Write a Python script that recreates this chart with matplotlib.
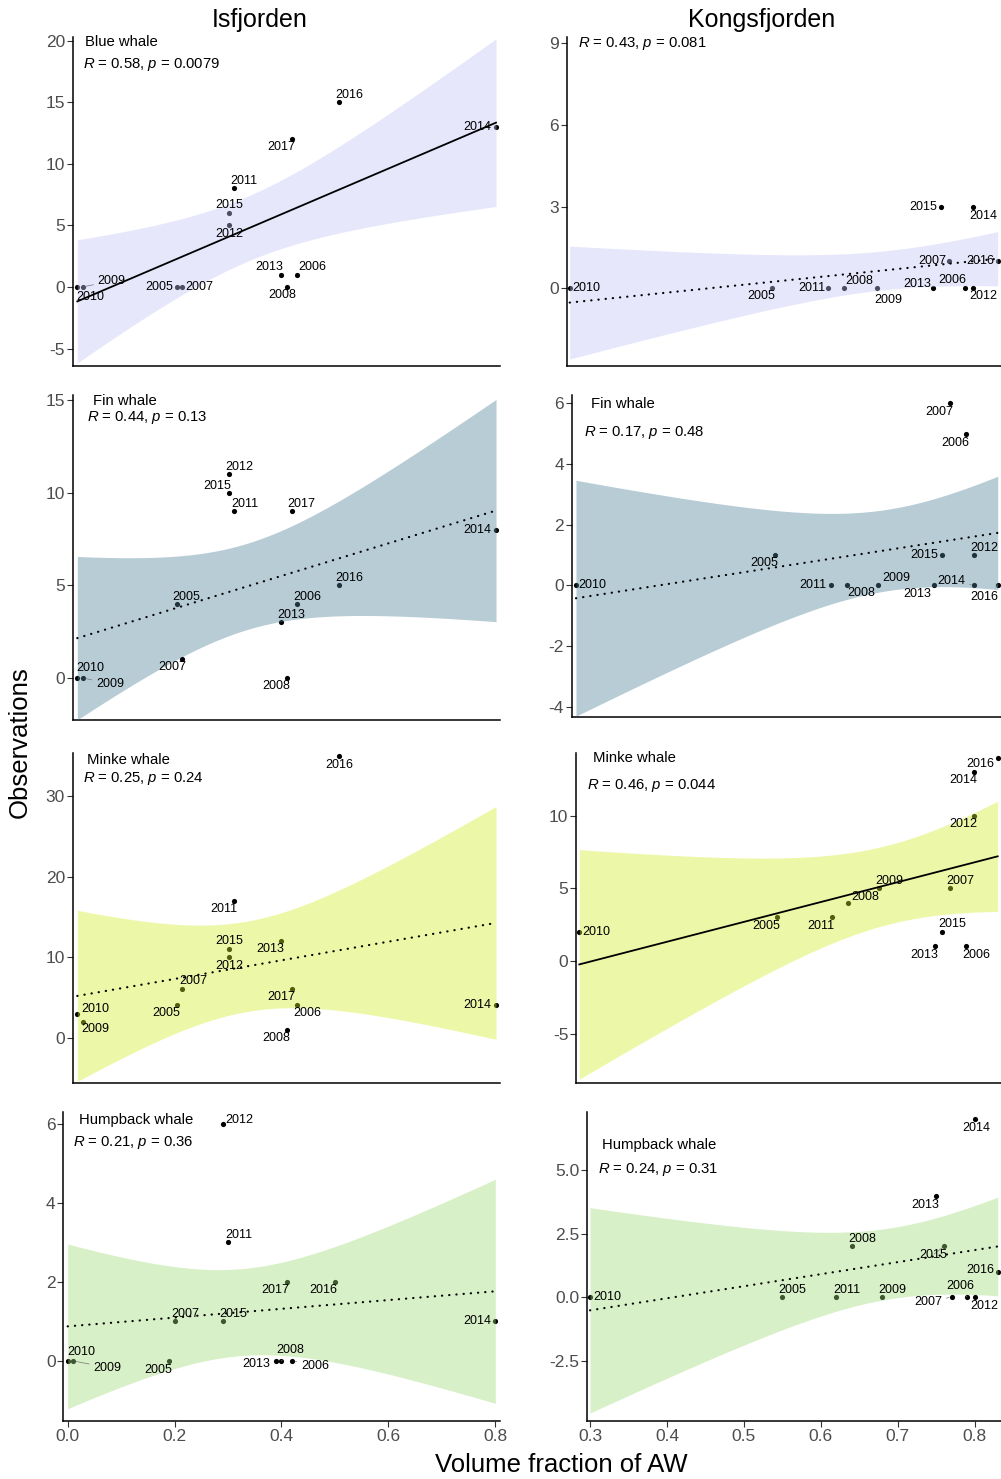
import numpy as np
import matplotlib
matplotlib.use("Agg")
import matplotlib.pyplot as plt

plt.rcParams['font.family'] = ['Liberation Sans', 'DejaVu Sans']
plt.rcParams['axes.unicode_minus'] = False
plt.rcParams['mathtext.fontset'] = 'custom'
plt.rcParams['mathtext.rm'] = 'Liberation Sans'
plt.rcParams['mathtext.it'] = 'Liberation Sans:italic'

# ---------------- data ----------------
years_isf = [2005, 2006, 2007, 2008, 2009, 2010, 2011, 2012, 2013, 2014, 2015, 2016, 2017]
aw_isf = [0.19, 0.42, 0.20, 0.40, 0.01, 0.00, 0.30, 0.29, 0.39, 0.80, 0.29, 0.50, 0.41]
years_kon = [2005, 2006, 2007, 2008, 2009, 2010, 2011, 2012, 2013, 2014, 2015, 2016]
aw_kon = [0.55, 0.79, 0.77, 0.64, 0.68, 0.30, 0.62, 0.80, 0.75, 0.80, 0.76, 0.83]

blue_isf = [0, 1, 0, 0, 0, 0, 8, 5, 1, 13, 6, 15, 12]
blue_kon = [0, 0, 1, 0, 0, 0, 0, 0, 0, 3, 3, 1]
fin_isf = [4, 4, 1, 0, 0, 0, 9, 11, 3, 8, 10, 5, 9]
fin_kon = [1, 5, 6, 0, 0, 0, 0, 1, 0, 0, 1, 0]
minke_isf = [4, 4, 6, 1, 2, 3, 17, 10, 12, 4, 11, 35, 6]
minke_kon = [3, 1, 5, 4, 5, 2, 3, 10, 1, 13, 2, 14]
hump_isf = [0, 0, 1, 0, 0, 0, 3, 6, 0, 1, 1, 2, 2]
hump_kon = [0, 0, 0, 2, 0, 0, 0, 0, 4, 7, 2, 1]

species_labels = ["Blue whale", None, "Fin whale", "Fin whale",
                  "Minke whale", "Minke whale", "Humpback whale", "Humpback whale"]
stat_R = ["0.58", "0.43", "0.44", "0.17", "0.25", "0.46", "0.21", "0.24"]
stat_p = ["0.0079", "0.081", "0.13", "0.48", "0.24", "0.044", "0.36", "0.31"]
significant = [True, False, False, False, False, True, False, False]

yticks_A = [-5, 0, 5, 10, 15, 20]
yticks_B = [0, 3, 6, 9]
yticks_C = [0, 5, 10, 15]
yticks_D = [-4, -2, 0, 2, 4, 6]
yticks_E = [0, 10, 20, 30]
yticks_F = [-5, 0, 5, 10]
yticks_G = [0, 2, 4, 6]
yticks_H = [-2.5, 0.0, 2.5, 5.0]
xticks_isf = [0.0, 0.2, 0.4, 0.6, 0.8]
xticks_kon = [0.3, 0.4, 0.5, 0.6, 0.7, 0.8]

col_titles = ["Isfjorden", "Kongsfjorden"]
ylabel = "Observations"
xlabel = "Volume fraction of AW"

# ---------------- styling / layout ----------------
FILL = {'blue': '#C5C5F7', 'fin': '#4E8099', 'minke': '#D4ED26', 'hump': '#9EDA76'}
T975 = {10: 2.228, 11: 2.201}

W, H = 1001, 1479
fig = plt.figure(figsize=(W / 100, H / 100), dpi=100)


def fx(px):
    return px / W


def fy(py):
    return 1 - py / H


def add_axes_px(l, t, r, b):
    return fig.add_axes([fx(l), fy(b), (r - l) / W, (b - t) / H])


def lm_band(x, y, n_grid=120):
    x = np.asarray(x, float)
    y = np.asarray(y, float)
    n = len(x)
    b, a = np.polyfit(x, y, 1)
    xs = np.linspace(x.min(), x.max(), n_grid)
    yhat = a + b * xs
    resid = y - (a + b * x)
    s = np.sqrt(np.sum(resid ** 2) / (n - 2))
    sxx = np.sum((x - x.mean()) ** 2)
    se = s * np.sqrt(1 / n + (xs - x.mean()) ** 2 / sxx)
    t = T975[n - 2]
    return xs, yhat, yhat - t * se, yhat + t * se


# label offsets (pixels, +y up) and label segments
off_A = {2010: (13.4, -9.7), 2009: (29, 6), 2005: (-18, 0), 2007: (17.3, 0), 2015: (0, 7.7),
         2012: (0, -9), 2011: (9.7, 7.7), 2013: (-11.7, 8), 2006: (14.7, 8), 2008: (-4, -8),
         2017: (-10.3, -8), 2016: (10, 7.4), 2014: (-18.7, 0)}
off_B = {2010: (17, 0), 2005: (-10.7, -7.7), 2011: (-16.7, 0), 2008: (14.7, 7.3), 2009: (12, -11.7),
         2013: (-16, 4.3), 2006: (-13.3, 8.3), 2012: (10.3, -7.7), 2007: (-16.7, 0), 2016: (-17.7, 0),
         2015: (-18.3, 0), 2014: (10.3, -9)}
off_C = {2012: (10, 7), 2015: (-11.7, 7), 2011: (10.7, 7.3), 2017: (9.7, 7.3), 2014: (-18.7, 0),
         2016: (10, 7), 2005: (9.7, 6.7), 2006: (10.3, 6.7), 2013: (10, 7.3), 2007: (-10, -8),
         2010: (13.4, 9.4), 2009: (27.3, -6.3), 2008: (-10, -8)}
off_D = {2010: (16.7, 0), 2005: (-10.3, -8.3), 2011: (-17.3, 0), 2008: (14.3, -8), 2009: (17.7, 7),
         2013: (-17.3, -9), 2015: (-18, 0), 2014: (-22.3, 4.3), 2012: (10, 7.3), 2016: (-13.7, -11.4),
         2007: (-10.7, -8.4), 2006: (-11, -9)}
off_E = {2016: (0, -9), 2011: (-10.6, -8.6), 2015: (0, 8), 2013: (-10.7, -8.3), 2012: (0, -9),
         2007: (11, 8.3), 2017: (-10.3, -8), 2005: (-10.3, -8), 2006: (9.7, -8), 2014: (-18.7, 0),
         2010: (17.7, 5), 2009: (13, -7.6), 2008: (-10, -8)}
off_F = {2016: (-17.7, -6.7), 2014: (-10.7, -8), 2012: (-10.7, -8.3), 2009: (10.3, 7.3), 2007: (9.7, 7.3),
         2008: (17.3, 6.3), 2005: (-10, -8.4), 2011: (-11, -8.4), 2015: (10, 7.7), 2010: (17.4, 0),
         2013: (-10.3, -8.3), 2006: (10, -8.3)}
off_G = {2012: (17, 3.3), 2011: (10.7, 7), 2017: (-11.3, -8.6), 2016: (-11.3, -8.6), 2007: (11, 7.3),
         2015: (11, 7.3), 2014: (-18, 0), 2010: (14, 8.7), 2009: (34.3, -6.7), 2005: (-11, -9),
         2013: (-20.3, -3), 2008: (8.6, 11), 2006: (22.7, -4.7)}
off_H = {2014: (1.3, -8.7), 2013: (-11, -9), 2008: (10.6, 7.3), 2015: (-11, -8.7), 2016: (-17.7, 2),
         2010: (17.3, 0), 2005: (10, 7), 2011: (10.4, 7), 2009: (10, 7), 2006: (-7, 11),
         2007: (-23.4, -4.7), 2012: (9.3, -8.7)}

panels = [
    dict(years=years_isf, x=aw_isf, y=blue_isf, fill='blue', off=off_A, segs={2009},
         box=(72.7, 36.7, 500, 366), xlim=(-0.0088, 0.8076), ylim=(-6.42, 20.33),
         yticks=yticks_A, xticks=None, sp=(85, 41.7), rp=(82.7, 64.3)),
    dict(years=years_kon, x=aw_kon, y=blue_kon, fill='blue', off=off_B, segs={2009},
         box=(566.7, 36.7, 1001, 366), xlim=(0.2963, 0.8341), ylim=(-2.85, 9.24),
         yticks=yticks_B, xticks=None, sp=None, rp=(578.3, 43.3)),
    dict(years=years_isf, x=aw_isf, y=fin_isf, fill='fin', off=off_C, segs={2009},
         box=(72.7, 395, 500, 720), xlim=(-0.0088, 0.8076), ylim=(-2.28, 15.27),
         yticks=yticks_C, xticks=None, sp=(92.7, 400.7), rp=(87.3, 417.7)),
    dict(years=years_kon, x=aw_kon, y=fin_kon, fill='fin', off=off_D, segs={2014, 2016},
         box=(571.7, 395, 1001, 716.7), xlim=(0.2946, 0.8341), ylim=(-4.33, 6.28),
         yticks=yticks_D, xticks=None, sp=(590.7, 404), rp=(584, 432.7)),
    dict(years=years_isf, x=aw_isf, y=minke_isf, fill='minke', off=off_E, segs=set(),
         box=(72.7, 753.3, 500, 1083.3), xlim=(-0.0088, 0.8076), ylim=(-5.66, 35.3),
         yticks=yticks_E, xticks=None, sp=(87.3, 760), rp=(82.7, 779)),
    dict(years=years_kon, x=aw_kon, y=minke_kon, fill='minke', off=off_F, segs=set(),
         box=(576, 753.3, 1001, 1082.7), xlim=(0.2958, 0.8342), ylim=(-8.37, 14.29),
         yticks=yticks_F, xticks=None, sp=(592.7, 757.7), rp=(587.3, 785)),
    dict(years=years_isf, x=aw_isf, y=hump_isf, fill='hump', off=off_G, segs={2009, 2008, 2006},
         box=(63.3, 1111.7, 500, 1421), xlim=(-0.0082, 0.8088), ylim=(-1.52, 6.30),
         yticks=yticks_G, xticks=xticks_isf, sp=(79.3, 1120), rp=(73.3, 1142.3)),
    dict(years=years_kon, x=aw_kon, y=hump_kon, fill='hump', off=off_H, segs={2015, 2006, 2007},
         box=(586.7, 1111.7, 1001, 1421), xlim=(0.2957, 0.8342), ylim=(-4.88, 7.30),
         yticks=yticks_H, xticks=xticks_kon, sp=(601.7, 1145), rp=(598.3, 1169)),
]

for i, p in enumerate(panels):
    ax = add_axes_px(*p['box'])
    x = np.asarray(p['x'], float)
    y = np.asarray(p['y'], float)
    ax.scatter(x, y, s=14, color='black', linewidths=0, zorder=2, clip_on=False)
    xs, yh, lo, hi = lm_band(x, y)
    ax.fill_between(xs, lo, hi, color=FILL[p['fill']], alpha=0.4, lw=0, zorder=3)
    if significant[i]:
        ax.plot(xs, yh, color='black', lw=1.3, zorder=4)
    else:
        ax.plot(xs, yh, color='black', lw=1.6, ls=(0, (0.1, 3.15)),
                dash_capstyle='round', zorder=4)
    for yr, xi, yi in zip(p['years'], x, y):
        dx, dy = p['off'][yr]
        kw = {}
        if yr in p['segs']:
            kw['arrowprops'] = dict(arrowstyle='-', color='0.45', lw=0.5, shrinkA=1, shrinkB=2)
        ax.annotate(str(yr), (xi, yi), xytext=(dx, dy), textcoords='offset pixels',
                    ha='center', va='center', fontsize=9, color='black', zorder=5,
                    annotation_clip=False, **kw)
    ax.set_xlim(*p['xlim'])
    ax.set_ylim(*p['ylim'])
    for s in ['top', 'right']:
        ax.spines[s].set_visible(False)
    for s in ['left', 'bottom']:
        ax.spines[s].set_linewidth(1.1)
        ax.spines[s].set_color('black')
    ax.set_yticks(p['yticks'])
    if i == 7:
        ax.set_yticklabels([f"{v:.1f}" for v in p['yticks']])
    else:
        ax.set_yticklabels([f"{v:g}" for v in p['yticks']])
    if p['xticks'] is None:
        ax.set_xticks([])
    else:
        ax.set_xticks(p['xticks'])
        ax.set_xticklabels([f"{v:.1f}" for v in p['xticks']])
    ax.tick_params(direction='out', length=4, width=0.8, color='#333333',
                   labelcolor='#4D4D4D', labelsize=12.5, pad=1.5)
    ax.patch.set_alpha(0)
    if species_labels[i]:
        fig.text(fx(p['sp'][0]), fy(p['sp'][1]), species_labels[i], ha='left', va='center',
                 fontsize=10.7, color='black')
    fig.text(fx(p['rp'][0]), fy(p['rp'][1]),
             r"$\it{R}$ = " + stat_R[i] + r", $\it{p}$ = " + stat_p[i],
             ha='left', va='center', fontsize=10.7, color='black')

fig.text(fx(259.5), fy(20), col_titles[0], ha='center', va='center', fontsize=18)
fig.text(fx(761.3), fy(20), col_titles[1], ha='center', va='center', fontsize=18)
fig.text(fx(20), fy(742), ylabel, ha='center', va='center', rotation=90, fontsize=18.5)
fig.text(fx(561), fy(1465), xlabel, ha='center', va='center', fontsize=18.5)

fig.savefig("out.png", dpi=100)
